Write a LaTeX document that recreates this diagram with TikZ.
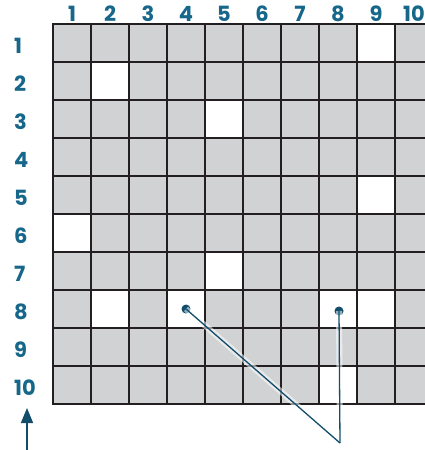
\documentclass[tikz,border=0pt]{standalone}
\usepackage{fontspec}
\setmainfont{Poppins}
\usetikzlibrary{arrows.meta}
\definecolor{cellgray}{RGB}{209,210,212}
\definecolor{gridline}{RGB}{35,31,32}
\definecolor{labelblue}{RGB}{22,103,138}
\definecolor{pointer}{RGB}{18,78,108}

\begin{document}
\begin{tikzpicture}[x=1pt,y=-1pt,
  cell/.style={fill=cellgray,draw=gridline,line width=2.2pt},
  blank/.style={fill=white,draw=gridline,line width=2.2pt},
  lbl/.style={font=\bfseries\fontsize{21}{21}\selectfont,text=labelblue,inner sep=0pt},
  dot/.style={circle,fill=pointer,inner sep=0pt,minimum size=9pt},
  ptr/.style={draw=pointer,line width=1.3pt},
  halo/.style={draw=white,line width=6pt,opacity=0.55},
  arr/.style={-{Triangle[length=15pt,width=12pt]},draw=pointer,line width=1.6pt}
]
\useasboundingbox (0,0) rectangle (425,450);

% grid of cells
\begin{scope}
\clip (0,0) rectangle (425,450);
\foreach \r in {1,...,10}
  \foreach \c in {1,...,10}
    \draw[cell] ({53+38*(\c-1)},{24+38*(\r-1)}) rectangle ++(38,38);
\foreach \r/\c in {1/9,2/2,3/5,5/9,6/1,7/5,8/2,8/4,8/8,8/9,10/8}
    \draw[blank] ({53+38*(\c-1)},{24+38*(\r-1)}) rectangle ++(38,38);
\end{scope}

% column and row labels
\foreach \c in {1,...,10}
  \node[lbl] (col\c) at ({72+38*(\c-1)},14) {\c};
\foreach \r in {1,...,10}
  \node[lbl,anchor=west] (row\r) at (14,{46+38*(\r-1)}) {\r};

% arrow
\coordinate (abot) at (27,450);
\coordinate (atop) at (27,408);
\draw[arr] (abot) -- (atop);

% pointers
\node[dot] (p1) at (186,309) {};
\node[dot] (p2) at (339,311) {};
\coordinate (tip) at (340,443);
\draw[halo] (p1.center) -- (tip);
\draw[halo] (p2.center) -- (tip);
\draw[ptr] (p1.center) -- (tip);
\draw[ptr] (p2.center) -- (tip);
\end{tikzpicture}
\end{document}
